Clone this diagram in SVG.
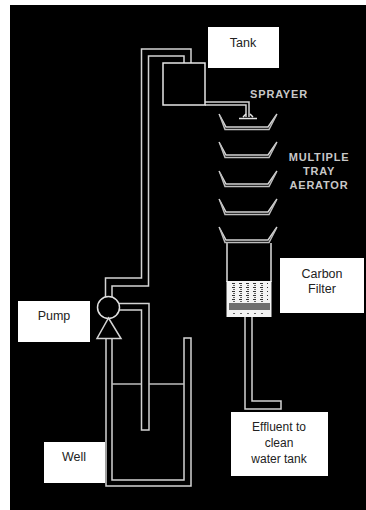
<svg xmlns="http://www.w3.org/2000/svg" width="366" height="510" viewBox="0 0 366 510">
<style>
.box{fill:#fff}
.p{fill:none;stroke:#d4d4d4;stroke-width:1.5}
.b{fill:none;stroke:#bdbdbd;stroke-width:1.5}
.t{font-family:"Liberation Sans",sans-serif;font-size:12.500px;fill:#222;text-anchor:middle;-webkit-text-stroke:.25px #222}
.e{font-size:12px}
.g{font-family:"Liberation Sans",sans-serif;font-size:11px;font-weight:bold;fill:#c8c8c8;text-anchor:middle;letter-spacing:.8px}
</style>
<defs>
<pattern id="dots" width="7" height="4" patternUnits="userSpaceOnUse" x="232" y="283"><rect x="0" y="0" width="3" height="1" fill="#333"/><rect x="1" y="2" width="2" height="1" fill="#666"/></pattern>
<g id="tray"><path class="p" d="M219 114L226 127H268L277 114"/><path class="b" d="M220 116L225 129.500H269L276 116"/></g>
</defs>
<rect x="0" y="0" width="366" height="510" fill="#fff"/>
<rect x="10" y="5" width="356" height="505" fill="#000"/>
<g id="connectors">
<path class="p" d="M105.500 298V278H141.500V49H191V63"/>
<path class="p" d="M112 298V286H148.500V56H184V63"/>
<path class="p" d="M118 303.500H149V430H141.500V310H118"/>
<path class="p" d="M106 339V486H191V338H184V480H112V339"/>
<path class="b" d="M112 384H141.500M149 384H184"/>
<path class="p" d="M205 102H249V117M205 105H246V117"/>
<path class="p" d="M245 317V409H281V401H252V317"/>
</g>
<g id="tank"><rect x="163" y="63" width="42" height="42" fill="#000" stroke="#e6e6e6" stroke-width="1.500"/></g>
<g id="tank-label"><rect class="box" x="208" y="27" width="71" height="41"/><text class="t" x="243" y="47">Tank</text></g>
<g id="sprayer"><path fill="none" stroke="#e6e6e6" stroke-width="1.500" d="M239 118.500H257M243 117L246 114M253 117L250 114"/><text class="g" x="279" y="98">SPRAYER</text></g>
<g id="tray1"><use href="#tray"/></g>
<g id="tray2"><use href="#tray" y="28"/></g>
<g id="tray3"><use href="#tray" y="57"/></g>
<g id="tray4"><use href="#tray" y="85"/></g>
<g id="tray5"><use href="#tray" y="113"/></g>
<g id="aerator-label"><text class="g" x="319" y="161">MULTIPLE</text><text class="g" x="319" y="175">TRAY</text><text class="g" x="319" y="189">AERATOR</text></g>
<g id="filter">
<path fill="none" stroke="#a8a8a8" stroke-width="2" d="M227 243V282M271 243V282"/>
<rect x="226.500" y="281" width="45" height="36" fill="#f4f4f4"/>
<rect x="230" y="283" width="38" height="19" fill="url(#dots)"/>
<rect x="229" y="303" width="41" height="7" fill="#444" opacity=".75"/>
<rect x="232" y="312" width="36" height="3" fill="url(#dots)"/>
</g>
<g id="carbon-label"><rect class="box" x="280" y="258" width="84" height="55"/><text class="t" x="322" y="278">Carbon</text><text class="t" x="322" y="293">Filter</text></g>
<g id="effluent-label"><rect class="box" x="231" y="412" width="97" height="64"/><text class="t e" x="279" y="431">Effluent to</text><text class="t e" x="279" y="447">clean</text><text class="t e" x="279" y="463">water tank</text></g>
<g id="pump"><circle cx="108.500" cy="307.500" r="11" fill="#000" stroke="#e0e0e0" stroke-width="1.500"/><path fill="#000" stroke="#d4d4d4" stroke-width="1.500" d="M108.500 318L121 338.500H97Z"/></g>
<g id="pump-label"><rect class="box" x="18" y="301" width="72" height="41"/><text class="t" x="54" y="320">Pump</text></g>
<g id="well-label"><rect class="box" x="44" y="442" width="61" height="41"/><text class="t" x="74" y="461">Well</text></g>
</svg>
